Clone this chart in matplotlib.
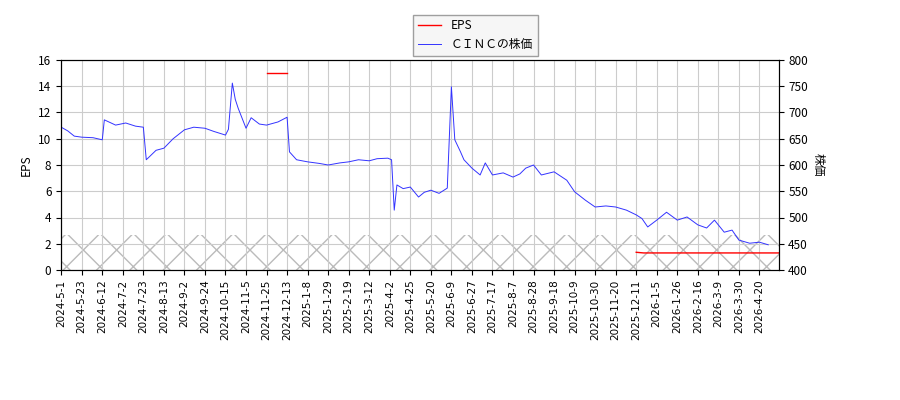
import matplotlib
matplotlib.use("Agg")
import matplotlib.pyplot as plt
import numpy as np
import pandas as pd

plt.rcParams['font.family'] = ['Noto Sans CJK JP', 'DejaVu Sans']

# 株価 (読み取り値)
price_dates = ["2024-5-1", "2024-5-8", "2024-5-15", "2024-5-23", "2024-6-3", "2024-6-12", "2024-6-14",
               "2024-6-25", "2024-7-5", "2024-7-15", "2024-7-23", "2024-7-26", "2024-8-5", "2024-8-13",
               "2024-8-22", "2024-9-2", "2024-9-12", "2024-9-24", "2024-10-3", "2024-10-15", "2024-10-18",
               "2024-10-22", "2024-10-25", "2024-10-28", "2024-11-5", "2024-11-10", "2024-11-18",
               "2024-11-25", "2024-12-5", "2024-12-13", "2024-12-16", "2024-12-25", "2025-1-8",
               "2025-1-20", "2025-1-29", "2025-2-10", "2025-2-19", "2025-3-1", "2025-3-12", "2025-3-20",
               "2025-3-31", "2025-4-4", "2025-4-7", "2025-4-10", "2025-4-17", "2025-4-25", "2025-5-5",
               "2025-5-12", "2025-5-20", "2025-5-28", "2025-6-5", "2025-6-9", "2025-6-12", "2025-6-17",
               "2025-6-20", "2025-6-27", "2025-7-5", "2025-7-10", "2025-7-17", "2025-7-28", "2025-8-7",
               "2025-8-14", "2025-8-20", "2025-8-28", "2025-9-5", "2025-9-18", "2025-10-1", "2025-10-9",
               "2025-10-20", "2025-10-30", "2025-11-10", "2025-11-20", "2025-12-1", "2025-12-11",
               "2025-12-18", "2025-12-25", "2026-1-5", "2026-1-15", "2026-1-26", "2026-2-5", "2026-2-16",
               "2026-2-25", "2026-3-5", "2026-3-15", "2026-3-23", "2026-3-30", "2026-4-10", "2026-4-20",
               "2026-4-28"]
price_values = [672, 665, 655, 653, 652, 648, 686, 676, 680, 674, 672, 610, 628, 632,
                650, 667, 672, 670, 664, 657, 668, 756, 725, 708, 670, 690, 678,
                676, 682, 691, 625, 610, 606,
                603, 600, 604, 606, 610, 608, 612,
                613, 610, 514, 562, 555, 558, 539,
                548, 552, 546, 556, 749, 648, 625,
                610, 594, 581, 604, 581, 585, 577,
                583, 594, 600, 581, 587, 571, 549,
                533, 520, 522, 520, 514, 505,
                498, 482, 495, 510, 495, 501, 486,
                480, 495, 472, 476, 457, 451, 453,
                448]

# EPS
eps1_dates = ["2024-11-25", "2024-12-13"]
eps1_values = [15.0, 15.0]
eps2_dates = ["2025-12-11", "2025-12-20", "2026-5-8"]
eps2_values = [1.35, 1.3, 1.3]

tick_labels = ["2024-5-1", "2024-5-23", "2024-6-12", "2024-7-2", "2024-7-23", "2024-8-13", "2024-9-2",
               "2024-9-24", "2024-10-15", "2024-11-5", "2024-11-25", "2024-12-13", "2025-1-8",
               "2025-1-29", "2025-2-19", "2025-3-12", "2025-4-2", "2025-4-25", "2025-5-20",
               "2025-6-9", "2025-6-27", "2025-7-17", "2025-8-7", "2025-8-28", "2025-9-18",
               "2025-10-9", "2025-10-30", "2025-11-20", "2025-12-11", "2026-1-5", "2026-1-26",
               "2026-2-16", "2026-3-9", "2026-3-30", "2026-4-20"]

# 取引日インデックス (目盛は等間隔)
tick_dates = pd.to_datetime(tick_labels)
tick_pos = np.arange(len(tick_labels)) * 14


def to_pos(dates):
    d = pd.to_datetime(dates).values.astype('datetime64[D]')
    return np.interp(d.astype(float), tick_dates.values.astype('datetime64[D]').astype(float),
                     tick_pos, left=None, right=None) + \
        np.where(d > tick_dates[-1].to_datetime64().astype('datetime64[D]'),
                 np.busday_count(tick_dates[-1].to_datetime64().astype('datetime64[D]'), d).clip(0), 0)


fig = plt.figure(figsize=(9, 4), dpi=100)
ax1 = fig.add_axes([0.068, 0.325, 0.797, 0.525])
ax2 = ax1.twinx()

ax1.axhspan(0, 2.7, facecolor='none', edgecolor='#bbbbbb', hatch='x', linewidth=0)
ax1.plot(to_pos(eps1_dates), eps1_values, color='red', lw=1, label='EPS')
ax1.plot(to_pos(eps2_dates), eps2_values, color='red', lw=1)
ax2.plot(to_pos(price_dates), price_values, color='#3333ff', lw=0.7, label='ＣＩＮＣの株価')

ax1.set_ylim(0, 16)
ax1.set_yticks(range(0, 17, 2))
ax2.set_ylim(400, 800)
ax2.set_yticks(range(400, 801, 50))
ax1.set_xlim(0, tick_pos[-1] + 13)
ax1.set_xticks(tick_pos)
ax1.set_xticklabels(tick_labels, rotation=90, fontsize=7.5, family='DejaVu Sans')
ax1.tick_params(axis='y', labelsize=8.5)
ax2.tick_params(axis='y', labelsize=8.5)
ax1.grid(True, color='#cccccc')
ax1.set_ylabel('EPS', fontsize=8.5)
ax2.set_ylabel('株価', fontsize=8.5, rotation=270, labelpad=12)

h1, l1 = ax1.get_legend_handles_labels()
h2, l2 = ax2.get_legend_handles_labels()
fig.legend(h1 + h2, l1 + l2, loc='upper center', bbox_to_anchor=(0.528, 0.978),
           fontsize=8.5, fancybox=False, edgecolor='#888888', facecolor='#f4f4f4')

fig.savefig("out.png")
